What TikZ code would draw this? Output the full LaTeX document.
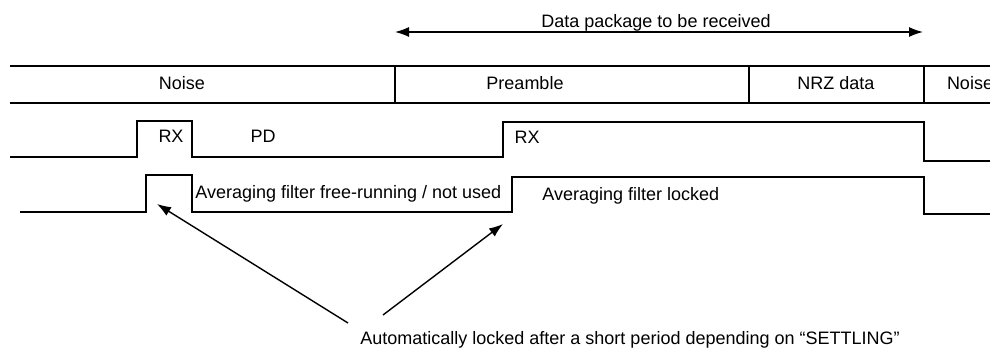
\documentclass[tikz,border=0pt]{standalone}
\usepackage{fontspec}
\setmainfont{Liberation Sans}
\usetikzlibrary{arrows.meta}
\usetikzlibrary{positioning}

\begin{document}
\begin{tikzpicture}[x=0.5pt,y=-0.5pt]
\tikzstyle{band}=[line width=1pt]
\tikzstyle{wave}=[line width=0.7pt]
\tikzstyle{lbl}=[font=\fontsize{9}{11}\selectfont,inner sep=0pt,text depth=.25ex]
\tikzstyle{pointer}=[line width=0.7pt,-{Latex[length=7pt,width=5pt]}]
\clip (0,0) rectangle (990,351);

% packet to be received
\coordinate (pktL) at(395, 32);
\coordinate (pktR) at(923, 32);
\draw[pointer,{Latex[length=7pt,width=5pt]}-{Latex[length=7pt,width=5pt]}] (pktL) -- (pktR);
\node[lbl] at(656, 22) (pkt) {Data package to be received};

% frame on air
\draw[band] (10,66) -- (990,66);
\draw[band] (10,103) -- (990,103);
\draw[wave] (395,66) -- (395,103) (749,66) -- (749,103) (924,66) -- (924,103);
\node[lbl] at(182, 84) (noiseA) {Noise};
\node[lbl] at(525, 84) (pre) {Preamble};
\node[lbl] at(836, 84) (nrz) {NRZ data};
\node[lbl] at(970, 84) (noiseB) {Noise};

% receiver state
\draw[wave] (10,157) -- (137,157) -- (137,121) -- (192,121) -- (192,157)
  -- (503,157) -- (503,122) -- (924,122) -- (924,161) -- (990,161);
\node[lbl] at(171, 138) (rxA) {RX};
\node[lbl] at(263, 138) (pd) {PD};
\node[lbl] at(527, 139) (rxB) {RX};

% averaging filter
\draw[wave] (20,212) -- (146,212) -- (146,175) -- (192,175) -- (192,212)
  -- (512,212) -- (512,177) -- (924,177) -- (924,214) -- (990,214);
\node[lbl,anchor=west] at(195, 193) (free) {Averaging filter free-running / not used};
\node[lbl,anchor=west] at(542, 195) (locked) {Averaging filter locked};

% settling note
\node[lbl,anchor=west] at(360, 339) (settle) {Automatically locked after a short period depending on ``SETTLING''};
\coordinate (tailA) at(348, 323);
\coordinate (tailB) at(383, 315);
\coordinate (lockA) at(157, 204);
\coordinate (lockB) at(503, 224);
\draw[pointer] (tailA) -- (lockA);
\draw[pointer] (tailB) -- (lockB);
\end{tikzpicture}
\end{document}
